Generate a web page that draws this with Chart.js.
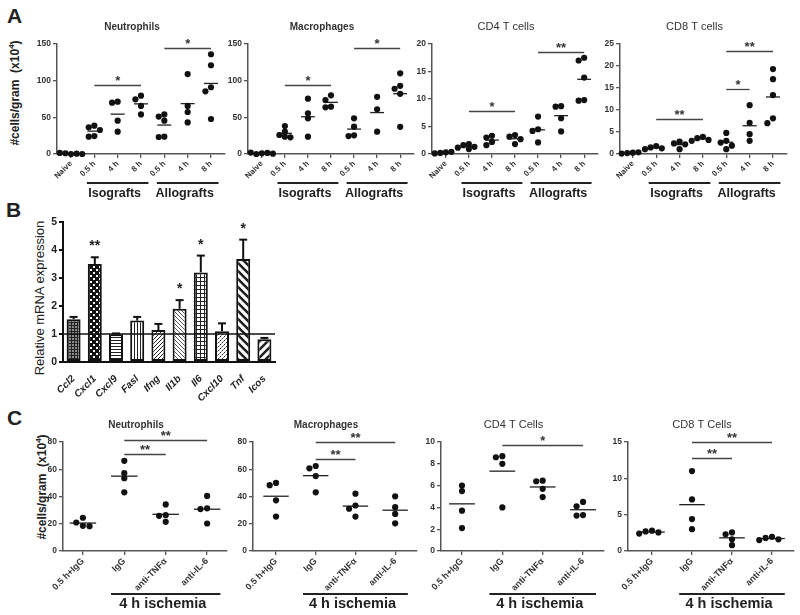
<!DOCTYPE html>
<html>
<head>
<meta charset="utf-8">
<script src="https://cdn.jsdelivr.net/npm/chart.js@4.4.1/dist/chart.umd.min.js"></script>
<style>
body{margin:0;background:#fff;width:800px;height:615px;position:relative;overflow:hidden;font-family:"Liberation Sans",Arial,sans-serif;color:#222}
.letter{position:absolute;font-weight:bold;font-size:21px;line-height:1}
.ylab{position:absolute;white-space:nowrap;line-height:1;transform:translate(-50%,-50%) rotate(-90deg)}
</style>
</head>
<body>
<div class="letter" style="left:7px;top:5px">A</div>
<div class="letter" style="left:6px;top:199px">B</div>
<div class="letter" style="left:7px;top:407px">C</div>
<div class="ylab" style="left:14px;top:93px;font-size:12px;font-weight:bold">#cells/gram&nbsp; (x10<sup style="font-size:8px">4</sup>)</div>
<div class="ylab" style="left:39px;top:298px;font-size:13px">Relative mRNA expression</div>
<div class="ylab" style="left:41px;top:487px;font-size:12px;font-weight:bold">#cells/gram&nbsp; (x10<sup style="font-size:8px">4</sup>)</div>
<script>
// ---- data: panel A (cells/gram x10^4 after transplantation) ----
const graftLabels = ["Naive", "0.5 h", "4 h", "8 h", "0.5 h", "4 h", "8 h"];

const neutroA = [
  [0, 1, 0.5, 1.5, 0],
  [38.6, 36.4, 32.7, 24.5, 23.6],
  [71.4, 70, 45.5, 30.5],
  [79.5, 74.5, 65.5, 54],
  [54, 51, 45.5, 23.6, 23.2],
  [109, 65.5, 57.3, 43],
  [136, 121, 91, 85.5, 47.7]
];
const macroA = [
  [1, 0, 1.5, 2, 0.5],
  [38.2, 30.5, 25.9, 23.6, 22.7],
  [75.5, 55.5, 48.6, 23.6],
  [80, 73.6, 64.5, 63.6],
  [48.6, 37.3, 25.5, 24.5],
  [78, 61, 30.5],
  [110, 93, 89, 82, 37]
];
const cd4A = [
  [0.3, 0.2, 0.4, 0.1],
  [1.8, 1.6, 1.3, 1.15, 0.9],
  [3.3, 3.0, 2.2, 1.6],
  [3.45, 3.15, 2.7, 1.8],
  [6.8, 4.5, 4.2, 2.1],
  [8.7, 8.6, 6.5, 4.1],
  [17.5, 17.0, 13.9, 9.8, 9.7]
];
const cd8A = [
  [0.3, 0.2, 0.4, 0.1],
  [1.8, 1.5, 1.3, 1.1],
  [2.8, 2.4, 2.2, 1.1],
  [3.9, 3.6, 3.2, 3.0],
  [4.8, 3.0, 2.6, 1.9, 1.1],
  [11.1, 7.1, 4.5, 3.0],
  [19.3, 17.0, 13.4, 8.1, 7.0]
];
// [from group, to group, bar value, stars]
const sigNeutroA = [[1, 3, 94, "*"], [4, 6, 145, "*"]];
const sigMacroA = [[1, 3, 94, "*"], [4, 6, 145, "*"]];
const sigCd4A = [[1, 3, 7.8, "*"], [4, 6, 18.6, "**"]];
const sigCd8A = [[1, 3, 8.0, "**"], [4, 5, 14.8, "*"], [4, 6, 23.3, "**"]];
const graftGroups = [[1, 3, "Isografts"], [4, 6, "Allografts"]];

// ---- data: panel B ----
const genes = ["Ccl2", "Cxcl1", "Cxcl9", "Fasl", "Ifng", "Il1b", "Il6", "Cxcl10", "Tnf", "Icos"];
const mrnaMean = [1.53, 3.5, 0.99, 1.48, 1.14, 1.9, 3.2, 1.1, 3.68, 0.81];
const mrnaErr = [0.08, 0.24, 0.03, 0.13, 0.22, 0.31, 0.6, 0.28, 0.69, 0.05];
const mrnaStars = ["", "**", "", "", "", "*", "*", "", "*", ""];

// ---- data: panel C (4 h ischemia, antibody treatment) ----
const treatLabels = ["0.5 h+IgG", "IgG", "anti-TNFα", "anti-IL-6"];
const neutroC = [[24.4, 20.9, 18.5, 18.2], [66.2, 57.1, 53.4, 43.1], [34.2, 26.3, 25.8, 21.4], [40.4, 31.3, 30.8, 20.2]];
const macroC = [[50, 48.3, 37.2, 25.3], [62.4, 60.7, 55, 43.1], [42.1, 33.4, 31, 25.3], [40.1, 32.2, 27.2, 20.3]];
const cd4C = [[6.0, 5.5, 3.7, 2.1], [8.7, 8.6, 8.0, 4.0], [6.45, 6.4, 5.7, 4.95], [4.5, 4.1, 3.3, 3.25]];
const cd8C = [[2.8, 2.7, 2.55, 2.4], [11.0, 7.1, 4.4, 3.0], [2.55, 2.3, 1.6, 0.8], [1.95, 1.8, 1.6, 1.5]];
const sigNeutroC = [[1, 2, 71, "**"], [1, 3, 81.7, "**"]];
const sigMacroC = [[1, 2, 67.4, "**"], [1, 3, 79.8, "**"]];
const sigCd4C = [[1, 3, 9.75, "*"]];
const sigCd8C = [[1, 2, 12.8, "**"], [1, 3, 15, "**"]];
const treatGroups = [[1, 3, "4 h ischemia"]];

const FONT = '"Liberation Sans", Arial, sans-serif';
Chart.defaults.font.family = FONT;
Chart.defaults.animation = false;
Chart.defaults.plugins.legend.display = false;
Chart.defaults.plugins.tooltip.enabled = false;

function addCanvas(box) {
  const c = document.createElement("canvas");
  c.width = box.w;
  c.height = box.h;
  c.style.cssText = `position:absolute;left:${box.l}px;top:${box.t}px;width:${box.w}px;height:${box.h}px`;
  document.body.appendChild(c);
  return c;
}

// spread points that would overlap, GraphPad style
function swarm(vals, thr, step) {
  const placed = [];
  return vals.map(v => {
    for (let k = 0; k < 9; k++) {
      const dx = (k % 2 ? -1 : 1) * Math.ceil(k / 2) * step;
      const hit = placed.some(p => Math.abs(p.v - v) < thr && Math.abs(p.dx - dx) < step * 0.5);
      if (!hit) {
        placed.push({ v, dx });
        return dx;
      }
    }
    return 0;
  });
}

function line(ctx, x1, y1, x2, y2) {
  ctx.beginPath();
  ctx.moveTo(x1, y1);
  ctx.lineTo(x2, y2);
  ctx.stroke();
}

function scatterPanel(o) {
  const canvas = addCanvas(o.box);
  const yW = 26;
  const xH = o.box.t + o.box.h - o.area.b;
  const pts = [];
  o.groups.forEach((g, i) => {
    const offs = swarm(g, o.yMax * 0.045, o.step);
    g.forEach((v, j) => pts.push({ x: i + offs[j], y: v }));
  });
  const means = o.groups.map((g, i) => {
    const m = g.reduce((a, b) => a + b, 0) / g.length;
    return {
      data: [{ x: i - o.half, y: m }, { x: i + o.half, y: m }],
      showLine: true,
      borderColor: "#222",
      borderWidth: 1.3,
      pointRadius: 0
    };
  });
  const axisGrid = { drawOnChartArea: false, tickLength: 4, color: "#555", lineWidth: 1.3 };
  const axisBorder = { color: "#555", width: 1.5 };

  new Chart(canvas, {
    type: "scatter",
    data: {
      datasets: [
        {
          data: pts,
          pointRadius: 3.1,
          pointBackgroundColor: "#111",
          pointBorderWidth: 0,
          clip: false
        },
        ...means
      ]
    },
    options: {
      responsive: false,
      layout: {
        padding: {
          left: o.area.l - o.box.l - yW,
          top: o.area.t - o.box.t,
          right: o.box.l + o.box.w - o.area.r,
          bottom: 0
        }
      },
      scales: {
        x: {
          type: "linear",
          min: o.xMin,
          max: o.xMax,
          afterBuildTicks: s => {
            s.ticks = o.labels.map((_, i) => ({ value: i }));
          },
          afterFit: s => {
            s.height = xH;
          },
          ticks: {
            autoSkip: false,
            minRotation: 45,
            maxRotation: 45,
            padding: 1,
            color: "#333",
            font: { size: o.tickSize, weight: "bold" },
            callback: v => o.labels[v]
          },
          grid: axisGrid,
          border: axisBorder
        },
        y: {
          min: 0,
          max: o.yMax,
          afterFit: s => {
            s.width = yW;
          },
          ticks: {
            stepSize: o.yStep,
            padding: 2,
            color: "#333",
            font: { size: 8.5, weight: "bold" }
          },
          grid: axisGrid,
          border: axisBorder
        }
      }
    },
    plugins: [{
      id: "annot",
      afterDraw(chart) {
        const { ctx, chartArea: a } = chart;
        const x = chart.scales.x;
        const y = chart.scales.y;
        ctx.save();
        ctx.fillStyle = "#333";
        ctx.textAlign = "center";
        ctx.textBaseline = "middle";
        ctx.font = (o.titleBold ? "bold 10px " : "11px ") + FONT;
        ctx.fillText(o.title, (a.left + a.right) / 2 - 9, a.top - 17);

        ctx.strokeStyle = "#444";
        ctx.lineWidth = 1.3;
        ctx.textBaseline = "alphabetic";
        ctx.font = "bold 13px " + FONT;
        o.sig.forEach(([f, t, v, s]) => {
          const py = Math.round(y.getPixelForValue(v)) + 0.5;
          const x1 = x.getPixelForValue(f);
          const x2 = x.getPixelForValue(t);
          line(ctx, x1, py, x2, py);
          ctx.fillText(s, (x1 + x2) / 2, py - 1);
        });

        ctx.strokeStyle = "#222";
        ctx.fillStyle = "#222";
        ctx.lineWidth = 1.8;
        ctx.font = "bold " + o.groupSize + "px " + FONT;
        o.under.forEach(([f, t, text]) => {
          const x1 = x.getPixelForValue(f - 0.32);
          const x2 = x.getPixelForValue(t + 0.32);
          const ly = a.bottom + o.lineOff;
          line(ctx, x1, ly, x2, ly);
          ctx.fillText(text, (x1 + x2) / 2 - 3, a.bottom + o.textOff);
        });
        ctx.restore();
      }
    }]
  });
}

// ---- panel A ----
const aCommon = {
  labels: graftLabels, xMax: 6.6, half: 0.3, step: 0.24, tickSize: 8,
  under: graftGroups, lineOff: 29, textOff: 43, groupSize: 12.5
};
scatterPanel({ ...aCommon, box: { l: 7, t: 5, w: 223, h: 200 }, area: { l: 57, t: 44, r: 225, b: 154 },
  xMin: -0.6, groups: neutroA, yMax: 150, yStep: 50, sig: sigNeutroA, title: "Neutrophils", titleBold: true });
scatterPanel({ ...aCommon, box: { l: 198, t: 5, w: 221, h: 200 }, area: { l: 248, t: 44, r: 414, b: 154 },
  xMin: -0.6, groups: macroA, yMax: 150, yStep: 50, sig: sigMacroA, title: "Macrophages", titleBold: true });
scatterPanel({ ...aCommon, box: { l: 382, t: 5, w: 221, h: 200 }, area: { l: 432, t: 44, r: 598, b: 154 },
  xMin: -0.6, groups: cd4A, yMax: 20, yStep: 5, sig: sigCd4A, title: "CD4 T cells", titleBold: false });
scatterPanel({ ...aCommon, box: { l: 570, t: 5, w: 225, h: 200 }, area: { l: 620, t: 44, r: 787, b: 154 },
  xMin: -0.55, groups: cd8A, yMax: 25, yStep: 5, sig: sigCd8A, title: "CD8 T cells", titleBold: false });

// ---- panel C ----
const cCommon = {
  labels: treatLabels, half: 0.32, step: 0.16, tickSize: 9,
  under: treatGroups, lineOff: 43, textOff: 57, groupSize: 14.5
};
scatterPanel({ ...cCommon, box: { l: 13, t: 405, w: 219, h: 210 }, area: { l: 63, t: 442, r: 227, b: 551 },
  xMin: -0.48, xMax: 3.48, groups: neutroC, yMax: 80, yStep: 20, sig: sigNeutroC, title: "Neutrophils", titleBold: true });
scatterPanel({ ...cCommon, box: { l: 203, t: 405, w: 219, h: 210 }, area: { l: 253, t: 442, r: 417, b: 551 },
  xMin: -0.58, xMax: 3.55, groups: macroC, yMax: 80, yStep: 20, sig: sigMacroC, title: "Macrophages", titleBold: true });
scatterPanel({ ...cCommon, box: { l: 391, t: 405, w: 218, h: 210 }, area: { l: 441, t: 442, r: 604, b: 551 },
  xMin: -0.52, xMax: 3.52, groups: cd4C, yMax: 10, yStep: 2, sig: sigCd4C, title: "CD4 T Cells", titleBold: false });
scatterPanel({ ...cCommon, box: { l: 578, t: 405, w: 221, h: 210 }, area: { l: 628, t: 442, r: 794, b: 551 },
  xMin: -0.6, xMax: 3.55, groups: cd8C, yMax: 15, yStep: 5, sig: sigCd8C, title: "CD8 T Cells", titleBold: false });

// ---- panel B: bar fills ----
function makePattern(kind) {
  const c = document.createElement("canvas");
  const s = { dense: 3, check: 6, hl: 3, vl: 3, fwd: 4, back: 4, grid: 4, dash: 4, backThick: 8, fwdThick: 8 }[kind];
  c.width = s;
  c.height = s;
  const g = c.getContext("2d");
  g.fillStyle = kind === "dense" ? "#8a8a8a" : kind === "check" ? "#111" : "#fff";
  g.fillRect(0, 0, s, s);
  g.strokeStyle = "#222";
  g.fillStyle = "#fff";
  g.lineWidth = 1;
  if (kind === "dense" || kind === "grid") {
    g.fillStyle = "#222";
    g.fillRect(0, 0, s, 1);
    g.fillRect(0, 0, 1, s);
  } else if (kind === "check") {
    g.fillRect(1, 1, 2, 2);
    g.fillRect(4, 4, 2, 2);
  } else if (kind === "hl") {
    g.fillStyle = "#222";
    g.fillRect(0, 0, s, 1);
  } else if (kind === "vl") {
    g.fillStyle = "#222";
    g.fillRect(0, 0, 1, s);
  } else {
    if (kind === "backThick" || kind === "fwdThick") g.lineWidth = 2.6;
    if (kind === "back") g.strokeStyle = "#555";
    if (kind === "dash") g.setLineDash([2, 1]);
    g.beginPath();
    if (kind === "back" || kind === "backThick") {
      g.moveTo(0, 0); g.lineTo(s, s);
      g.moveTo(-s / 2, s / 2); g.lineTo(s / 2, s * 1.5);
      g.moveTo(s / 2, -s / 2); g.lineTo(s * 1.5, s / 2);
    } else {
      g.moveTo(0, s); g.lineTo(s, 0);
      g.moveTo(-s / 2, s / 2); g.lineTo(s / 2, -s / 2);
      g.moveTo(s / 2, s * 1.5); g.lineTo(s * 1.5, s / 2);
    }
    g.stroke();
  }
  return g.createPattern(c, "repeat");
}

const fillKinds = ["dense", "check", "hl", "vl", "fwd", "back", "grid", "dash", "backThick", "fwdThick"];

const boxB = { l: 20, t: 205, w: 270, h: 200 };
const areaB = { l: 63, t: 222, r: 275, b: 362 };
const yWB = 25;

new Chart(addCanvas(boxB), {
  type: "bar",
  data: {
    labels: genes,
    datasets: [{
      data: mrnaMean,
      backgroundColor: fillKinds.map(makePattern),
      borderColor: "#111",
      borderWidth: 2,
      borderSkipped: false,
      barPercentage: 0.66,
      categoryPercentage: 1
    }]
  },
  options: {
    responsive: false,
    layout: {
      padding: {
        left: areaB.l - boxB.l - yWB,
        top: areaB.t - boxB.t,
        right: boxB.l + boxB.w - areaB.r,
        bottom: 0
      }
    },
    scales: {
      x: {
        afterFit: s => {
          s.height = boxB.t + boxB.h - areaB.b;
        },
        ticks: {
          autoSkip: false,
          minRotation: 45,
          maxRotation: 45,
          padding: 3,
          color: "#222",
          font: { size: 10, weight: "bold", style: "italic" }
        },
        grid: { display: false },
        border: { color: "#111", width: 2 }
      },
      y: {
        min: 0,
        max: 5,
        afterFit: s => {
          s.width = yWB;
        },
        ticks: {
          stepSize: 1,
          padding: 2,
          color: "#222",
          font: { size: 10.5, weight: "bold" }
        },
        grid: { drawOnChartArea: false, tickLength: 4, color: "#111", lineWidth: 2 },
        border: { color: "#111", width: 2 }
      }
    }
  },
  plugins: [{
    id: "errs",
    afterDatasetsDraw(chart) {
      const { ctx, chartArea: a } = chart;
      const y = chart.scales.y;
      const bars = chart.getDatasetMeta(0).data;
      ctx.save();
      ctx.strokeStyle = "#111";
      ctx.fillStyle = "#222";
      ctx.lineWidth = 1.6;
      const y1 = y.getPixelForValue(1);
      line(ctx, a.left, y1, a.right, y1);
      ctx.lineWidth = 2;
      ctx.textAlign = "center";
      ctx.font = "bold 14px " + FONT;
      bars.forEach((bar, i) => {
        const top = y.getPixelForValue(mrnaMean[i] + mrnaErr[i]);
        line(ctx, bar.x, bar.y, bar.x, top);
        line(ctx, bar.x - 4, top, bar.x + 4, top);
        if (mrnaStars[i]) ctx.fillText(mrnaStars[i], bar.x, top - 7);
      });
      ctx.restore();
    }
  }]
});
</script>
</body>
</html>
